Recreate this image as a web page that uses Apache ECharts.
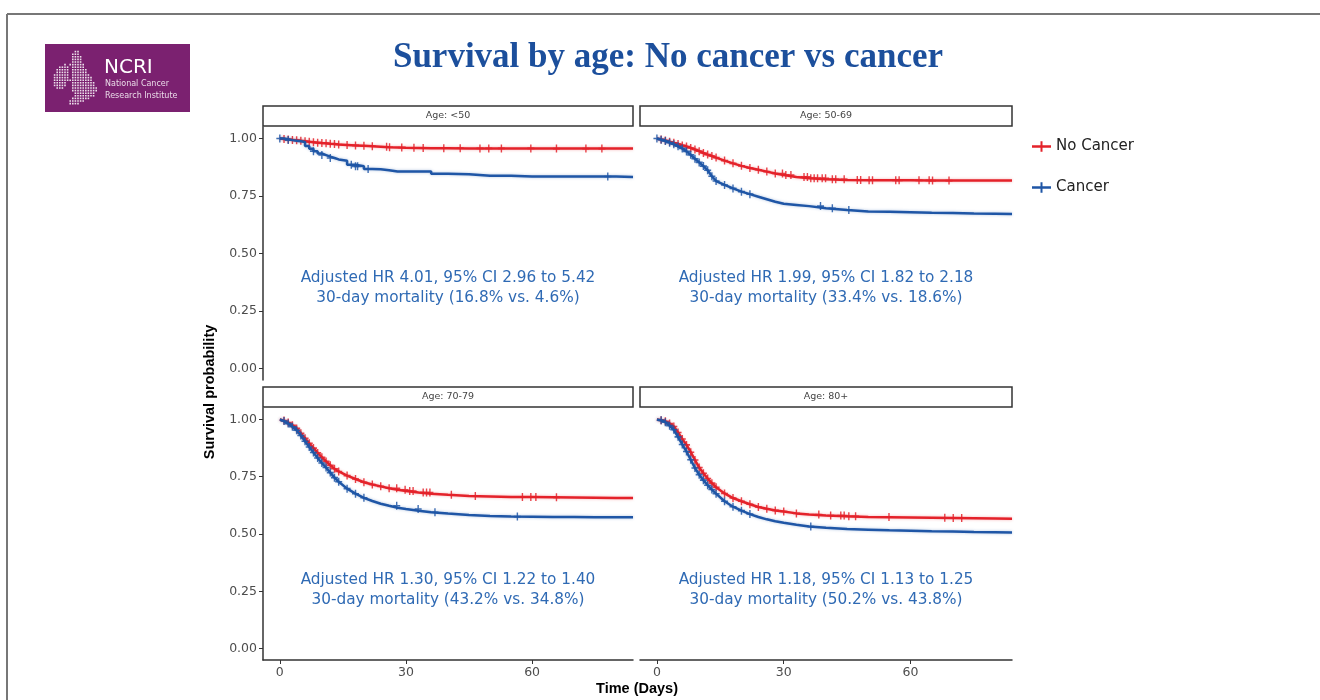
<!DOCTYPE html>
<html><head><meta charset="utf-8">
<script src="https://cdn.jsdelivr.net/npm/echarts@6/dist/echarts.min.js"></script>
<style>html,body{margin:0;padding:0;background:#fff}#c{width:1320px;height:700px}</style>
</head><body><div id="c"></div>
<script>
// ---------- DATA ----------
const days = [0,1,2,3,4,5,6,7,8,9,10,11,12,13,14,16,18,20,22,24,26,28,30,33,36,40,45,50,55,60,65,70,75,80,84];
const panelTitles = ['Age: <50','Age: 50-69','Age: 70-79','Age: 80+'];
const seriesNames = ['No Cancer','Cancer'];
const xTicks = [0,30,60];
const yTicks = [0,0.25,0.5,0.75,1];

// Survival probability per day
const noCancer_lt50  = [1.000,0.998,0.996,0.994,0.992,0.990,0.988,0.986,0.984,0.982,0.980,0.979,0.977,0.976,0.974,0.972,0.970,0.968,0.966,0.964,0.962,0.961,0.960,0.959,0.958,0.958,0.957,0.957,0.957,0.956,0.956,0.956,0.956,0.956,0.956];
const cancer_lt50    = [1.000,0.997,0.993,0.990,0.988,0.985,0.967,0.955,0.945,0.935,0.928,0.921,0.915,0.909,0.903,0.886,0.879,0.867,0.866,0.862,0.857,0.857,0.857,0.857,0.847,0.845,0.838,0.838,0.835,0.835,0.835,0.835,0.835,0.833,0.833];
const noCancer_5069  = [1.000,0.996,0.991,0.986,0.981,0.976,0.970,0.965,0.959,0.952,0.945,0.937,0.930,0.924,0.917,0.904,0.892,0.881,0.872,0.864,0.856,0.848,0.841,0.833,0.827,0.823,0.820,0.819,0.818,0.818,0.817,0.817,0.817,0.817,0.817];
const cancer_5069    = [1.000,0.995,0.989,0.982,0.975,0.966,0.957,0.944,0.929,0.912,0.896,0.880,0.862,0.836,0.815,0.798,0.783,0.769,0.758,0.747,0.736,0.725,0.716,0.711,0.706,0.697,0.689,0.683,0.681,0.679,0.677,0.676,0.674,0.673,0.672];
const noCancer_7079  = [1.000,0.995,0.987,0.975,0.961,0.940,0.918,0.896,0.875,0.854,0.835,0.817,0.800,0.785,0.773,0.755,0.740,0.726,0.716,0.708,0.700,0.693,0.688,0.681,0.676,0.671,0.666,0.664,0.662,0.661,0.660,0.659,0.658,0.657,0.657];
const cancer_7079    = [1.000,0.993,0.982,0.968,0.953,0.930,0.905,0.880,0.856,0.832,0.810,0.790,0.768,0.746,0.728,0.698,0.676,0.658,0.644,0.632,0.623,0.615,0.609,0.601,0.595,0.589,0.583,0.579,0.576,0.575,0.574,0.574,0.573,0.573,0.573];
const noCancer_80    = [1.000,0.997,0.992,0.982,0.969,0.943,0.915,0.889,0.857,0.823,0.790,0.765,0.742,0.722,0.704,0.677,0.657,0.643,0.630,0.618,0.610,0.603,0.598,0.590,0.585,0.581,0.577,0.574,0.573,0.572,0.571,0.570,0.569,0.568,0.567];
const cancer_80      = [1.000,0.996,0.988,0.973,0.955,0.924,0.891,0.860,0.824,0.788,0.759,0.735,0.713,0.694,0.676,0.643,0.619,0.602,0.587,0.574,0.564,0.556,0.549,0.540,0.533,0.527,0.522,0.519,0.516,0.514,0.512,0.511,0.509,0.508,0.507];

// Censoring times (days)
const censor_noCancer_lt50 = [1,2,3,4,5,6,7,8,9,10,11,12,13,14,16,18,20,22,25.4,26.1,29,31.9,34.1,39,42.9,47.6,49.7,52.7,59.7,65.8,72.8,76.6];
const censor_cancer_lt50   = [0,2,8,10,12,17,18,18.5,21,78];
const censor_noCancer_5069 = [1,2,3,4,5,6,7,8,9,10,11,12,13,14,16,18,20,22,24,26,28,29.7,30.5,31.7,34.8,35.6,36.4,37.2,38,39.1,39.9,41.5,42.3,44.3,47.4,48.2,50.2,51,56.5,57.3,62,64.4,65.2,69.1];
const censor_cancer_5069   = [0,1,2,3,4,5,6,7,8,9,10,11,12,13,14,16,18,20,22,38.7,41.5,45.4];
const censor_noCancer_7079 = [1,2,3,4,5,6,7,8,9,10,11,12,13,14,16,18,20,22,24,26,27.8,29.8,30.9,31.7,34.1,34.9,35.7,40.8,46.5,57.7,59.7,60.9,65.8];
const censor_cancer_7079   = [1,2,3,4,5,6,7,8,9,10,11,12,13,14,16,18,20,27.8,32.9,36.9,56.5];
const censor_noCancer_80   = [1,2,3,4,5,6,7,8,9,10,11,12,13,14,16,18,20,22,24,26,28,30,33,38.3,41.1,43.5,44.3,45.4,47,54.9,68.1,70.1,72.1];
const censor_cancer_80     = [1,2,3,4,5,6,7,8,9,10,11,12,13,14,16,18,20,22,36.4];

const annotations = [
  ['Adjusted HR 4.01, 95% CI 2.96 to 5.42','30-day mortality (16.8% vs. 4.6%)'],
  ['Adjusted HR 1.99, 95% CI 1.82 to 2.18','30-day mortality (33.4% vs. 18.6%)'],
  ['Adjusted HR 1.30, 95% CI 1.22 to 1.40','30-day mortality (43.2% vs. 34.8%)'],
  ['Adjusted HR 1.18, 95% CI 1.13 to 1.25','30-day mortality (50.2% vs. 43.8%)']
];

// ---------- LAYOUT / STYLE ----------
const RED = '#e4222a', BLUE = '#1f56a6', ANN = '#2f6ab4';
const G = [{l:263,t:127,w:370,h:253},{l:640,t:127,w:372,h:253},{l:263,t:408,w:370,h:252},{l:640,t:408,w:372,h:252}];
const annY = [288,288,590,590];
const showY = [true,false,true,false];
const showX = [false,false,true,true];
const curves = [
  [noCancer_lt50, cancer_lt50, censor_noCancer_lt50, censor_cancer_lt50, [false,true]],
  [noCancer_5069, cancer_5069, censor_noCancer_5069, censor_cancer_5069, [false,false]],
  [noCancer_7079, cancer_7079, censor_noCancer_7079, censor_cancer_7079, [false,false]],
  [noCancer_80, cancer_80, censor_noCancer_80, censor_cancer_80, [false,false]]
];
const PLUS = 'path://M4,0 H6 V4 H10 V6 H6 V10 H4 V6 H0 V4 H4 Z';
const TXT = '#4d4d4d';

function stepValue(vals, d){ let k=0; for(let i=0;i<days.length;i++){ if(days[i]<=d) k=i; } return vals[k]; }

const grid=[], xAxis=[], yAxis=[], series=[], graphic=[];
G.forEach((g,i)=>{
  grid.push({left:g.l, top:g.t, width:g.w, height:g.h, outerBoundsMode:'none', containLabel:false});
  xAxis.push({type:'value', gridIndex:i, min:-4, max:84,
    axisLine:{show:showX[i], onZero:false, lineStyle:{color:'#333', width:1.5}},
    axisTick:{show:showX[i], length:4, lineStyle:{color:'#333'}, customValues:xTicks},
    axisLabel:{show:showX[i], customValues:xTicks, color:TXT, fontSize:12.5, fontFamily:'DejaVu Sans', margin:6},
    splitLine:{show:false}});
  yAxis.push({type:'value', gridIndex:i, min:-0.05, max:1.05,
    axisLine:{show:showY[i], onZero:false, lineStyle:{color:'#333', width:1.5}},
    axisTick:{show:showY[i], length:4, lineStyle:{color:'#333'}, customValues:yTicks},
    axisLabel:{show:showY[i], customValues:yTicks, color:TXT, fontSize:12.5, fontFamily:'DejaVu Sans', margin:6, formatter:v=>v.toFixed(2)},
    splitLine:{show:false}});
  const c = curves[i];
  [0,1].forEach(s=>{
    const vals = c[s], col = s===0?RED:BLUE;
    series.push({type:'line', name:seriesNames[s], xAxisIndex:i, yAxisIndex:i, color:col,
      data: days.map((d,k)=>[d, vals[k]]), showSymbol:false, step: c[4][s]?'end':false,
      lineStyle:{color:col, width:2.5, shadowColor: s===0?'rgba(228,34,42,0.35)':'rgba(31,86,166,0.35)', shadowBlur:3},
      silent:true, z: 2+s*2, animation:false});
    series.push({type:'scatter', name:seriesNames[s], xAxisIndex:i, yAxisIndex:i, color:col,
      data: c[2+s].map(d=>[d, stepValue(vals,d)]), symbol:PLUS, symbolSize:[7,8],
      itemStyle:{color:col, opacity:0.85}, silent:true, z:3+s*2, animation:false});
  });
  // strip header
  graphic.push({type:'rect', shape:{x:g.l, y:g.t-21, width:g.w, height:20}, style:{fill:'#fff', stroke:'#333', lineWidth:1.5}, z:10});
  graphic.push({type:'text', x:g.l+g.w/2, y:g.t-11, style:{text:panelTitles[i], fill:'#444', font:'9.5px "DejaVu Sans"', align:'center', verticalAlign:'middle'}, z:11});
  // annotation
  graphic.push({type:'text', x:g.l+g.w/2, y:annY[i], style:{text:annotations[i].join('\n'), fill:ANN, font:'15.3px "DejaVu Sans"', lineHeight:20, align:'center', verticalAlign:'middle'}, z:11});
});

// slide frame
graphic.push({type:'line', shape:{x1:7,y1:14,x2:1320,y2:14}, style:{stroke:'#777', lineWidth:2}});
graphic.push({type:'line', shape:{x1:7,y1:14,x2:7,y2:700}, style:{stroke:'#777', lineWidth:2}});
// title
graphic.push({type:'text', x:668, y:58, style:{text:'Survival by age: No cancer vs cancer', fill:'#1c4f9c', font:'bold 35px "Liberation Serif"', align:'center', verticalAlign:'middle'}});
// axis titles
graphic.push({type:'text', x:210, y:392, rotation:Math.PI/2, style:{text:'Survival probability', fill:'#000', font:'bold 14.5px "Liberation Sans"', align:'center', verticalAlign:'middle'}});
graphic.push({type:'text', x:637, y:689, style:{text:'Time (Days)', fill:'#000', font:'bold 14.5px "Liberation Sans"', align:'center', verticalAlign:'middle'}});

// logo
const logo = [{type:'rect', shape:{x:45,y:44,width:145,height:68}, style:{fill:'#7b2170'}}];
const GB = [[74,50],[80,52],[82,60],[84,66],[88,72],[93,80],[97,90],[95,96],[88,100],[78,104],[70,106],[67,102],[74,96],[72,88],[70,80],[72,72],[70,64],[72,56]];
const IE = [[60,66],[66,64],[70,70],[69,80],[64,88],[56,89],[53,82],[55,72]];
function inPoly(x,y,p){let r=false;for(let i=0,j=p.length-1;i<p.length;j=i++){const xi=p[i][0],yi=p[i][1],xj=p[j][0],yj=p[j][1];if(((yi>y)!==(yj>y))&&(x<(xj-xi)*(y-yi)/(yj-yi)+xi))r=!r;}return r;}
for(let y=49;y<=107;y+=2.6){for(let x=52;x<=98;x+=2.6){ if(inPoly(x,y,GB)||inPoly(x,y,IE)) logo.push({type:'rect', shape:{x:x-0.8,y:y-0.8,width:1.6,height:1.6}, style:{fill:'rgba(255,255,255,0.85)'}}); }}
logo.push({type:'text', x:104, y:68, style:{text:'NCRI', fill:'#fff', font:'20px "DejaVu Sans"', verticalAlign:'middle'}});
logo.push({type:'text', x:105, y:84, style:{text:'National Cancer', fill:'#eadbe8', font:'8px "DejaVu Sans"', verticalAlign:'middle'}});
logo.push({type:'text', x:105, y:96, style:{text:'Research Institute', fill:'#eadbe8', font:'8px "DejaVu Sans"', verticalAlign:'middle'}});
graphic.push({type:'group', children:logo});

const chart = echarts.init(document.getElementById('c'), null, {renderer:'canvas'});
chart.setOption({
  animation:false,
  backgroundColor:'#fff',
  grid, xAxis, yAxis, series, graphic,
  legend:{orient:'vertical', left:1027, top:134, itemWidth:19, itemHeight:12, itemGap:26,
    icon:'path://M0,5 H19 V7.4 H0 Z M8.5,1 H10.5 V11.4 H8.5 Z',
    data:seriesNames, textStyle:{fontSize:15, color:'#222', fontFamily:'DejaVu Sans'}, selectedMode:false}
});
</script></body></html>
